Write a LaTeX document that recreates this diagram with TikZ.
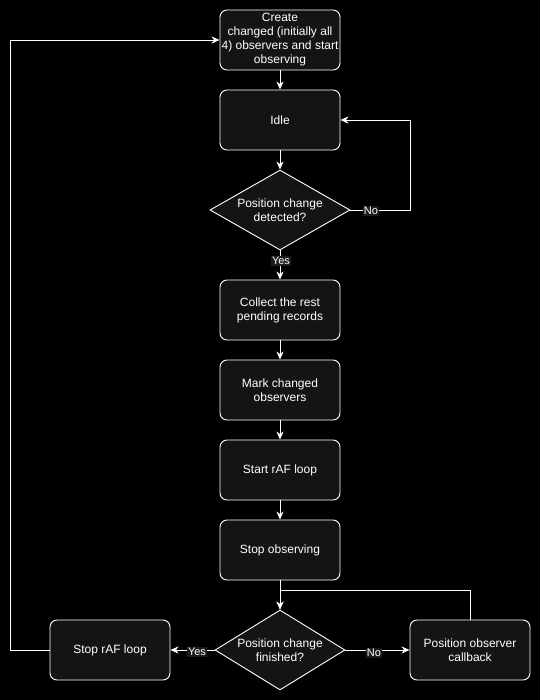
\documentclass[tikz,border=0pt]{standalone}
\usepackage{fontspec}
\setmainfont{Liberation Sans}
\usetikzlibrary{shapes.geometric,arrows.meta}
\definecolor{nodefill}{HTML}{141414}
\definecolor{lblfill}{HTML}{1C1C1C}
\begin{document}
\begin{tikzpicture}[x=1pt,y=-1pt,
  box/.style={draw=white,fill=nodefill,rounded corners=7pt,line width=0.9pt,minimum width=120pt,minimum height=60pt,inner sep=0pt,align=center,text=white,font=\fontsize{12}{14}\selectfont},
  dia/.style={draw=white,fill=nodefill,diamond,aspect=1.75,line width=0.9pt,inner sep=0pt,align=center,text=white,font=\fontsize{12}{14}\selectfont},
  conn/.style={draw=white,line width=0.9pt,-{Stealth[length=8pt,width=7pt,inset=2.5pt]}},
  lbl/.style={fill=lblfill,text=white,inner sep=1pt,font=\fontsize{11}{12}\selectfont}]
\fill[black] (0,0) rectangle (540,700);
\useasboundingbox (0,0) rectangle (540,700);
\node[box] (create) at (280,40) {Create\\changed (initially all\\4) observers and start\\observing};
\node[box] (idle) at (280,120) {Idle};
\node[dia,minimum width=140pt,minimum height=80pt] (d1) at (280,210) {Position change\\detected?};
\node[box] (collect) at (280,310) {Collect the rest\\pending records};
\node[box] (mark) at (280,390) {Mark changed\\observers};
\node[box] (start) at (280,470) {Start rAF loop};
\node[box] (stopobs) at (280,550) {Stop observing};
\node[dia,minimum width=130pt,minimum height=80pt,aspect=1.625] (d2) at (280,650) {Position change\\finished?};
\node[box] (stopraf) at (110,650) {Stop rAF loop};
\node[box] (cb) at (470,650) {Position observer\\callback};
\coordinate (r1) at (410,210);
\coordinate (r2) at (410,120);
\coordinate (j) at (280,590);
\coordinate (c1) at (470,590);
\coordinate (l1) at (10,650);
\coordinate (l2) at (10,40);
\draw[conn] (create) -- (idle);
\draw[conn] (idle) -- (d1);
\draw[conn] (d1.east) -- (r1) -- (r2) -- (idle.east);
\node[lbl] at (371,211) {No};
\draw[conn] (d1.south) -- (collect);
\node[lbl] at (281,261) {Yes};
\draw[conn] (collect) -- (mark);
\draw[conn] (mark) -- (start);
\draw[conn] (start) -- (stopobs);
\draw[conn] (stopobs) -- (d2.north);
\draw[conn] (cb.north) -- (c1) -- (j) -- (d2.north);
\draw[conn] (d2.west) -- (stopraf.east);
\node[lbl] at (197,652) {Yes};
\draw[conn] (d2.east) -- (cb.west);
\node[lbl] at (374,653) {No};
\draw[conn] (stopraf.west) -- (l1) -- (l2) -- (create.west);
\end{tikzpicture}
\end{document}
